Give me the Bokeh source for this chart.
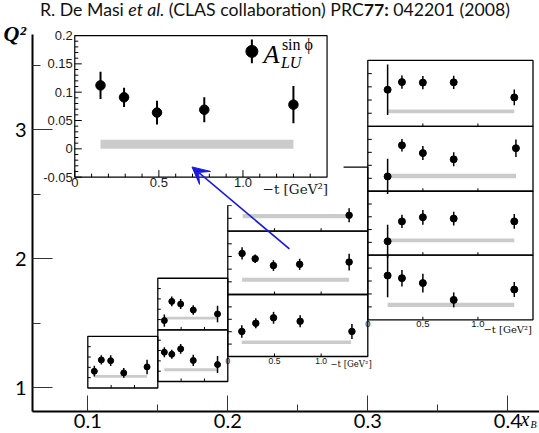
import numpy as np
from bokeh.plotting import figure
from bokeh.models import Range1d, FixedTicker, Arrow, VeeHead, Div
from bokeh.layouts import column
from bokeh.core.properties import value
from bokeh.embed import file_html
from bokeh.resources import INLINE

# ------------------------------------------------------------------ data
# main axes
xb_ticks = [0.1, 0.2, 0.3, 0.4]
xb_minor = [0.15, 0.25, 0.35]
xb_labels = ["0.1", "0.2", "0.3", "0.4"]
q2_ticks = [1, 2, 3]
q2_minor = [1.5, 2.5, 3.5]
q2_labels = ["1", "2", "3"]

# inset axes (-t in GeV^2, A_LU)
t_ticks = [0.0, 0.5, 1.0]
t_labels = ["0", "0.5", "1.0"]
a_ticks = [-0.05, 0.0, 0.05, 0.1, 0.15, 0.2]
a_labels = ["-0.05", "0", "0.05", "0.1", "0.15", "0.2"]

# kinematic bins: (xB low, xB high, Q2 low, Q2 high)
bin_c1 = (0.10, 0.15, 1.000, 1.400)
bin_c2a = (0.15, 0.20, 1.450, 1.850)
bin_c2b = (0.15, 0.20, 1.050, 1.450)
bin_c3a = (0.20, 0.30, 2.215, 2.710)
bin_c3b = (0.20, 0.30, 1.724, 2.215)
bin_c3c = (0.20, 0.30, 1.244, 1.724)
bin_c4a = (0.30, 0.418, 3.026, 3.537)
bin_c4b = (0.30, 0.418, 2.524, 3.026)
bin_c4c = (0.30, 0.418, 2.029, 2.524)
bin_c4d = (0.30, 0.418, 1.528, 2.029)
bin_big = (0.0907, 0.2709, 2.633, 3.730)   # enlarged view of bin_c3b

# A_LU^{sin phi} per bin: -t, value, stat. error, systematic band (t from, t to, height)
c1_t = [0.14, 0.29, 0.49, 0.77, 1.27]
c1_a = [0.031, 0.086, 0.082, 0.023, 0.052]
c1_e = [0.026, 0.022, 0.026, 0.024, 0.035]
c1_sys = (0.14, 1.27, 0.013)

c2a_t = [0.14, 0.30, 0.49, 0.76, 1.28]
c2a_a = [-0.005, 0.088, 0.075, 0.046, 0.027]
c2a_e = [0.030, 0.024, 0.024, 0.023, 0.040]
c2a_sys = (0.14, 1.28, 0.014)

c2b_t = [0.14, 0.30, 0.49, 0.76, 1.28]
c2b_a = [0.092, 0.082, 0.108, 0.052, 0.032]
c2b_e = [0.024, 0.022, 0.024, 0.027, 0.041]
c2b_sys = (0.14, 1.28, 0.014)

c3a_t = [1.30]
c3a_a = [0.012]
c3a_e = [0.027]
c3a_sys = (0.16, 1.29, 0.017)

c3b_t = [0.153, 0.293, 0.489, 0.770, 1.30]
c3b_a = [0.112, 0.091, 0.064, 0.069, 0.078]
c3b_e = [0.024, 0.017, 0.021, 0.022, 0.033]
c3b_sys = (0.153, 1.30, 0.016)

c3c_t = [0.15, 0.30, 0.49, 0.775, 1.33]
c3c_a = [0.051, 0.084, 0.106, 0.092, 0.051]
c3c_e = [0.025, 0.020, 0.024, 0.024, 0.030]
c3c_sys = (0.15, 1.32, 0.014)

c4a_t = [0.18, 0.31, 0.50, 0.78, 1.33]
c4a_a = [0.089, 0.118, 0.116, 0.117, 0.060]
c4a_e = [0.096, 0.025, 0.025, 0.025, 0.030]
c4a_sys = (0.18, 1.33, 0.014)

c4b_t = [0.18, 0.31, 0.50, 0.78, 1.345]
c4b_a = [0.007, 0.127, 0.097, 0.073, 0.116]
c4b_e = [0.068, 0.024, 0.027, 0.027, 0.034]
c4b_sys = (0.18, 1.345, 0.017)

c4c_t = [0.18, 0.31, 0.50, 0.78, 1.33]
c4c_a = [0.004, 0.082, 0.098, 0.093, 0.082]
c4c_e = [0.065, 0.026, 0.029, 0.027, 0.029]
c4c_sys = (0.18, 1.33, 0.015)

c4d_t = [0.18, 0.31, 0.50, 0.78, 1.33]
c4d_a = [0.121, 0.111, 0.092, 0.027, 0.067]
c4d_e = [0.084, 0.032, 0.036, 0.029, 0.029]
c4d_sys = (0.18, 1.33, 0.016)

# legend entry of the enlarged panel
leg_t, leg_a, leg_e = [1.053], [0.172], [0.021]

# ------------------------------------------------------------------ layout
W, H_TITLE = 539, 20
H_FIG = 433 - H_TITLE
PXX, PXY = 1400.0, 129.1          # px per unit xB / Q2
AX_X = 0.0605                     # where the Q2 axis sits (xB)
AX_Y = 0.818                      # where the xB axis sits (Q2)
AX_TOP = 3.738                    # top end of the Q2 axis
FX0 = AX_X - 32 / PXX             # frame covers the whole canvas
FX1 = FX0 + W / PXX
FY1 = AX_TOP + (34 - H_TITLE) / PXY
FY0 = FY1 - H_FIG / PXY
T_LO, T_HI = 0.0, 1.5
A_LO, A_HI = -0.05, 0.2

BLACK = "black"
GREY = "#cbcbcb"
BLUE = "#1818e0"

p = figure(width=W, height=H_FIG, x_range=Range1d(FX0, FX1), y_range=Range1d(FY0, FY1),
           output_backend="svg", toolbar_location=None,
           min_border_left=0, min_border_right=0, min_border_top=0, min_border_bottom=0)
p.outline_line_color = None
p.grid.visible = False
p.background_fill_color = "white"
p.border_fill_color = "white"

xa = p.xaxis[0]
xa.ticker = FixedTicker(ticks=xb_ticks, minor_ticks=xb_minor)
xa.major_label_overrides = dict(zip(xb_ticks, xb_labels))
xa.fixed_location = AX_Y
xa.bounds = (AX_X, FX1)
ya = p.yaxis[0]
ya.ticker = FixedTicker(ticks=q2_ticks, minor_ticks=q2_minor)
ya.major_label_overrides = dict(zip(q2_ticks, q2_labels))
ya.fixed_location = AX_X
ya.bounds = (AX_Y, AX_TOP)
for ax, tin, mtin in ((xa, 16, 7), (ya, 20, 8)):
    ax.axis_line_width = 2
    ax.axis_line_color = BLACK
    ax.major_tick_in = tin
    ax.major_tick_out = 0
    ax.minor_tick_in = mtin
    ax.minor_tick_out = 0
    ax.major_tick_line_color = "#333333"
    ax.minor_tick_line_color = "#333333"
    ax.major_label_text_font = "Lato"
    ax.major_label_text_font_size = "20px"
    ax.major_label_text_color = BLACK
xa.major_label_standoff = 3
ya.major_label_standoff = 6

boxes = {"c1": bin_c1, "c2a": bin_c2a, "c2b": bin_c2b, "c3a": bin_c3a, "c3b": bin_c3b,
         "c3c": bin_c3c, "c4a": bin_c4a, "c4b": bin_c4b, "c4c": bin_c4c, "c4d": bin_c4d,
         "big": bin_big}
xr, yr, scale = {}, {}, {}
for name, (bx0, bx1, by0, by1) in boxes.items():
    kx = (T_HI - T_LO) / (bx1 - bx0)
    ky = (A_HI - A_LO) / (by1 - by0)
    xr[name] = Range1d(T_LO - (bx0 - FX0) * kx, T_HI + (FX1 - bx1) * kx)
    yr[name] = Range1d(A_LO - (by0 - FY0) * ky, A_HI + (FY1 - by1) * ky)
    scale[name] = (kx / PXX, ky / PXY)   # t per px, A per px
p.extra_x_ranges = xr
p.extra_y_ranges = yr


def to_main(name, t, a):
    bx0, bx1, by0, by1 = boxes[name]
    return (bx0 + (t - T_LO) / (T_HI - T_LO) * (bx1 - bx0),
            by0 + (a - A_LO) / (A_HI - A_LO) * (by1 - by0))


def draw_panel(name, t, a, e, sys, ms=6.5, ewidth=1.5, tick_px=4, lw=1.3):
    bx0, bx1, by0, by1 = boxes[name]
    tpp, app = scale[name]
    kw = dict(x_range_name=name, y_range_name=name)
    p.quad(left=[sys[0]], right=[sys[1]], bottom=[0.0], top=[sys[2]],
           fill_color=GREY, line_color=None, **kw)
    inner_a = [v for v in a_ticks if A_LO < v < A_HI]
    p.segment(x0=[T_LO] * len(inner_a), y0=inner_a,
              x1=[T_LO + tick_px * tpp] * len(inner_a), y1=inner_a,
              line_color=BLACK, line_width=1, **kw)
    inner_t = [v for v in t_ticks if v > T_LO]
    p.segment(x0=inner_t, y0=[A_LO] * len(inner_t), x1=inner_t,
              y1=[A_LO + 3 * app] * len(inner_t), line_color=BLACK, line_width=1, **kw)
    p.quad(left=[bx0], right=[bx1], bottom=[by0], top=[by1],
           fill_color=None, line_color=BLACK, line_width=lw)
    ta, aa, ea = np.array(t), np.array(a), np.array(e)
    p.segment(x0=ta, y0=aa - ea, x1=ta, y1=aa + ea, line_color=BLACK, line_width=ewidth, **kw)
    p.scatter(x=ta, y=aa, size=ms, marker="circle", color=BLACK, **kw)


def axis_labels(name, font_px, title_px, lab_dy_px, title_t, title_dy_px):
    tpp, app = scale[name]
    kw = dict(x_range_name=name, y_range_name=name)
    p.text(x=t_ticks, y=[A_LO - lab_dy_px * app] * len(t_ticks), text=t_labels,
           text_font=value("Liberation Sans"), text_font_size=f"{font_px}px",
           text_align="center", text_baseline="top", text_color="#111111", **kw)
    p.text(x=[title_t], y=[A_LO - title_dy_px * app], text=["\u2212t [GeV\u00b2]"],
           text_font=value("DejaVu Serif"), text_font_size=f"{title_px}px",
           text_align="left", text_baseline="middle", text_color="#111111", **kw)


draw_panel("c1", c1_t, c1_a, c1_e, c1_sys, ms=6, tick_px=3)
draw_panel("c2a", c2a_t, c2a_a, c2a_e, c2a_sys, ms=6, tick_px=3)
draw_panel("c2b", c2b_t, c2b_a, c2b_e, c2b_sys, ms=6, tick_px=3)
draw_panel("c3a", c3a_t, c3a_a, c3a_e, c3a_sys)
draw_panel("c3b", c3b_t, c3b_a, c3b_e, c3b_sys)
draw_panel("c3c", c3c_t, c3c_a, c3c_e, c3c_sys)
draw_panel("c4a", c4a_t, c4a_a, c4a_e, c4a_sys, ms=7)
draw_panel("c4b", c4b_t, c4b_a, c4b_e, c4b_sys, ms=7)
draw_panel("c4c", c4c_t, c4c_a, c4c_e, c4c_sys, ms=7)
draw_panel("c4d", c4d_t, c4d_a, c4d_e, c4d_sys, ms=7)
axis_labels("c3c", 8.5, 8.5, 1.5, 1.10, 7.5)
axis_labels("c4d", 9.5, 10, 1.5, 1.05, 9.7)

# ----------------------------------------------------------- enlarged panel
bx0, bx1, by0, by1 = bin_big
p.quad(left=[AX_X + 23 / PXX], right=[bx1 + 16.5 / PXX], bottom=[by0 - 28 / PXY], top=[AX_TOP],
       fill_color="white", line_color=None)
tpp, app = scale["big"]
kwb = dict(x_range_name="big", y_range_name="big")
p.quad(left=[c3b_sys[0]], right=[c3b_sys[1]], bottom=[0.0], top=[c3b_sys[2]],
       fill_color=GREY, line_color=None, **kwb)
# ticks
a_minor = [round(v, 3) for v in np.arange(-0.04, 0.2, 0.01) if abs(round(v / 0.05) * 0.05 - v) > 1e-6]
t_minor = [round(v, 2) for v in np.arange(0.1, 1.5, 0.1) if abs(round(v / 0.5) * 0.5 - v) > 1e-6]
p.segment(x0=[T_LO] * len(a_ticks), y0=a_ticks, x1=[T_LO + 7 * tpp] * len(a_ticks), y1=a_ticks,
          line_color=BLACK, line_width=1, **kwb)
p.segment(x0=[T_LO] * len(a_minor), y0=a_minor, x1=[T_LO + 3.5 * tpp] * len(a_minor), y1=a_minor,
          line_color=BLACK, line_width=1, **kwb)
p.segment(x0=t_ticks, y0=[A_LO] * len(t_ticks), x1=t_ticks, y1=[A_LO + 7 * app] * len(t_ticks),
          line_color=BLACK, line_width=1, **kwb)
p.segment(x0=t_minor, y0=[A_LO] * len(t_minor), x1=t_minor, y1=[A_LO + 3.5 * app] * len(t_minor),
          line_color=BLACK, line_width=1, **kwb)
p.quad(left=[bx0], right=[bx1], bottom=[by0], top=[by1], fill_color=None,
       line_color=BLACK, line_width=1.2)
ta, aa, ea = np.array(c3b_t), np.array(c3b_a), np.array(c3b_e)
p.segment(x0=ta, y0=aa - ea, x1=ta, y1=aa + ea, line_color=BLACK, line_width=2, **kwb)
p.scatter(x=ta, y=aa, size=9.5, marker="circle", color=BLACK, **kwb)
# tick labels
p.text(x=[T_LO - 2 * tpp] * len(a_ticks), y=a_ticks, text=a_labels,
       text_font=value("Liberation Sans"), text_font_size="13px", text_align="right",
       text_baseline="middle", text_color="#1a1a1a", **kwb)
p.text(x=t_ticks, y=[A_LO - 1 * app] * len(t_ticks), text=t_labels,
       text_font=value("Liberation Sans"), text_font_size="13px", text_align="center",
       text_baseline="top", text_color="#1a1a1a", **kwb)
p.text(x=[T_HI + 1 * tpp], y=[A_LO - 11.5 * app], text=["\u2212t [GeV\u00b2]"],
       text_font=value("DejaVu Serif"), text_font_size="13.5px", text_align="right",
       text_baseline="middle", text_color="#1a1a1a", **kwb)
# legend
lt, la, le = np.array(leg_t), np.array(leg_a), np.array(leg_e)
p.segment(x0=lt, y0=la - le, x1=lt, y1=la + le, line_color=BLACK, line_width=2, **kwb)
p.scatter(x=lt, y=la, size=12, marker="circle", color=BLACK, **kwb)
p.text(x=[lt[0] + 11.5 * tpp], y=[la[0] - 2.8 * app], text=["A"],
       text_font=value("Liberation Serif"), text_font_style="italic", text_font_size="26px",
       text_align="left", text_baseline="middle", text_color=BLACK, **kwb)
p.text(x=[lt[0] + 30 * tpp], y=[la[0] + 6.7 * app], text=["sin \u03d5"],
       text_font=value("Liberation Serif"), text_font_size="16px",
       text_align="left", text_baseline="middle", text_color=BLACK, **kwb)
p.text(x=[lt[0] + 29 * tpp], y=[la[0] - 11.5 * app], text=["LU"],
       text_font=value("Liberation Serif"), text_font_style="italic", text_font_size="16px",
       text_align="left", text_baseline="middle", text_color=BLACK, **kwb)

# arrow from the bin to its enlarged view
xs, ys = to_main("c3b", 0.66, 0.130)
xe, ye = to_main("big", 0.697, -0.032)
p.add_layout(Arrow(x_start=xs, y_start=ys, x_end=xe, y_end=ye, line_color=BLUE, line_width=1.6,
                   end=VeeHead(size=17, fill_color=BLUE, line_color=BLUE, line_width=1)))

# axis titles
p.text(x=[AX_X - 29 / PXX], y=[AX_TOP + 1 / PXY], text=["Q\u00b2"],
       text_font=value("Liberation Serif"), text_font_style="bold italic",
       text_font_size="22px", text_baseline="middle", text_align="left", text_color=BLACK)
p.text(x=[AX_X + 488 / PXX], y=[AX_Y - 8 / PXY], text=["x"],
       text_font=value("Liberation Serif"), text_font_style="italic",
       text_font_size="20px", text_baseline="middle", text_align="left", text_color=BLACK)
p.text(x=[AX_X + 498 / PXX], y=[AX_Y - 13 / PXY], text=["B"],
       text_font=value("Liberation Serif"), text_font_style="italic",
       text_font_size="10px", text_baseline="middle", text_align="left", text_color=BLACK)

title = Div(text='<div style="font-family: Lato; font-size: 17.7px; line-height: 20px; '
                 'white-space: nowrap; padding-left: 40px; color: #111;">'
                 'R. De Masi <i>et al.</i> (CLAS collaboration) PRC<b>77:</b> 042201 (2008)</div>',
            width=W, height=H_TITLE, margin=(0, 0, 0, 0))

layout = column(title, p, spacing=0)
open("out.html", "w").write(file_html(layout, INLINE))
